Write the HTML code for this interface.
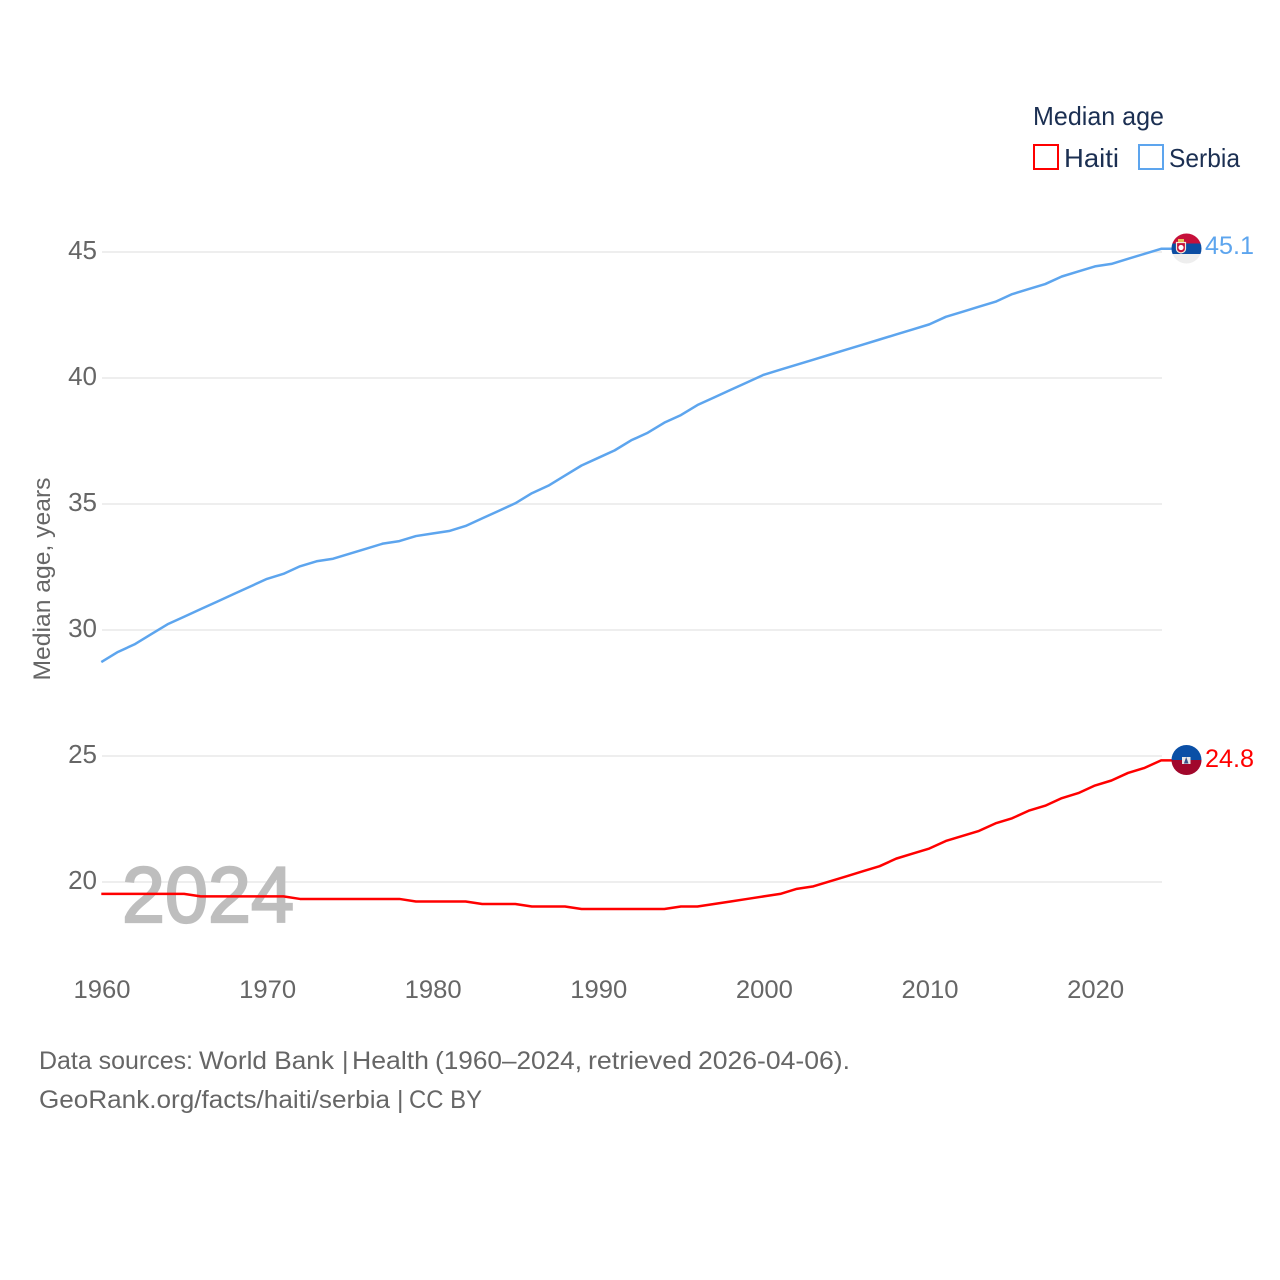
<!DOCTYPE html>
<html lang="en">
<head>
<meta charset="utf-8">
<title>Median age: Haiti and Serbia</title>
<style>
html,body{margin:0;padding:0;background:#fff;width:1280px;height:1280px;overflow:hidden}
svg{display:block}
text{font-family:"Liberation Sans",sans-serif}
</style>
</head>
<body>
<svg id="chart" xmlns="http://www.w3.org/2000/svg" width="1280" height="1280" viewBox="0 0 1280 1280">
  <rect width="1280" height="1280" fill="#fff"/>
  <g id="grid"></g>
  <text x="122" y="922" font-size="79" font-weight="400" fill="#bebebe" stroke="#bebebe" stroke-width="2.2" textLength="172" lengthAdjust="spacingAndGlyphs">2024</text>
  <g id="yticks"></g>
  <g id="xticks"></g>
  <text transform="translate(50,579) rotate(-90)" text-anchor="middle" font-size="24" fill="#666" textLength="203" lengthAdjust="spacingAndGlyphs">Median age, years</text>
  <g id="lines"></g>

  <g>
    <clipPath id="clip-serbia"><circle cx="1186.5" cy="248.5" r="15"/></clipPath>
    <g clip-path="url(#clip-serbia)">
      <rect x="1171" y="233" width="31" height="10.5" fill="#c6103a"/>
      <rect x="1171" y="243.5" width="31" height="10.5" fill="#0c4da2"/>
      <rect x="1171" y="254" width="31" height="10" fill="#eeeeee"/>
      <path d="M1176.5 242.5h9v6.5q0 3-4.5 4q-4.5-1-4.5-4z" fill="#c6103a" stroke="#f5ead8" stroke-width="1.2"/>
      <circle cx="1181" cy="247.5" r="2.6" fill="#ffffff"/>
      <rect x="1178" y="239" width="6" height="3" fill="#e8c15a"/>
    </g>
  </g>
  <g>
    <clipPath id="clip-haiti"><circle cx="1186.5" cy="760" r="15"/></clipPath>
    <g clip-path="url(#clip-haiti)">
      <rect x="1171" y="745" width="31" height="15" fill="#0a4fa6"/>
      <rect x="1171" y="760" width="31" height="15" fill="#a1082c"/>
      <rect x="1182" y="757" width="8.5" height="7" fill="#e8e8e8"/>
      <path d="M1186.2 757l2.3 6.5h-4.6z" fill="#37528a"/>
    </g>
  </g>

  <text x="1205" y="254" font-size="25" fill="#5da5ee" textLength="49" lengthAdjust="spacingAndGlyphs">45.1</text>
  <text x="1205" y="767" font-size="25" fill="#ff0000" textLength="49" lengthAdjust="spacingAndGlyphs">24.8</text>

  <g>
    <text x="1033" y="125" font-size="26" fill="#1b2f52" textLength="131" lengthAdjust="spacingAndGlyphs">Median age</text>
    <g>
      <rect x="1034" y="145" width="24" height="24" fill="none" stroke="#ff0000" stroke-width="2"/>
      <text x="1064" y="167" font-size="26" fill="#1b2f52" textLength="55" lengthAdjust="spacingAndGlyphs">Haiti</text>
    </g>
    <g>
      <rect x="1139" y="145" width="24" height="24" fill="none" stroke="#5da5ee" stroke-width="2"/>
      <text x="1169" y="167" font-size="26" fill="#1b2f52" textLength="71" lengthAdjust="spacingAndGlyphs">Serbia</text>
    </g>
  </g>

  <text y="1069" font-size="25" fill="#666"><tspan x="39" textLength="154" lengthAdjust="spacingAndGlyphs">Data sources:</tspan> <tspan x="199" textLength="135" lengthAdjust="spacingAndGlyphs">World Bank</tspan> <tspan x="342">|</tspan> <tspan x="352" textLength="77" lengthAdjust="spacingAndGlyphs">Health</tspan> <tspan x="435" textLength="147" lengthAdjust="spacingAndGlyphs">(1960–2024,</tspan> <tspan x="588" textLength="104" lengthAdjust="spacingAndGlyphs">retrieved</tspan> <tspan x="698" textLength="152" lengthAdjust="spacingAndGlyphs">2026-04-06).</tspan></text>
  <text y="1108" font-size="25" fill="#666"><tspan x="39" textLength="351" lengthAdjust="spacingAndGlyphs">GeoRank.org/facts/haiti/serbia</tspan> <tspan x="397">|</tspan> <tspan x="409" textLength="73" lengthAdjust="spacingAndGlyphs">CC BY</tspan></text>
</svg>
<script>
const years = [1960,1961,1962,1963,1964,1965,1966,1967,1968,1969,1970,1971,1972,1973,1974,1975,1976,1977,1978,1979,1980,1981,1982,1983,1984,1985,1986,1987,1988,1989,1990,1991,1992,1993,1994,1995,1996,1997,1998,1999,2000,2001,2002,2003,2004,2005,2006,2007,2008,2009,2010,2011,2012,2013,2014,2015,2016,2017,2018,2019,2020,2021,2022,2023,2024];
const serbiaValues = [28.7,29.1,29.4,29.8,30.2,30.5,30.8,31.1,31.4,31.7,32.0,32.2,32.5,32.7,32.8,33.0,33.2,33.4,33.5,33.7,33.8,33.9,34.1,34.4,34.7,35.0,35.4,35.7,36.1,36.5,36.8,37.1,37.5,37.8,38.2,38.5,38.9,39.2,39.5,39.8,40.1,40.3,40.5,40.7,40.9,41.1,41.3,41.5,41.7,41.9,42.1,42.4,42.6,42.8,43.0,43.3,43.5,43.7,44.0,44.2,44.4,44.5,44.7,44.9,45.1];
const haitiValues = [19.5,19.5,19.5,19.5,19.5,19.5,19.4,19.4,19.4,19.4,19.4,19.4,19.3,19.3,19.3,19.3,19.3,19.3,19.3,19.2,19.2,19.2,19.2,19.1,19.1,19.1,19.0,19.0,19.0,18.9,18.9,18.9,18.9,18.9,18.9,19.0,19.0,19.1,19.2,19.3,19.4,19.5,19.7,19.8,20.0,20.2,20.4,20.6,20.9,21.1,21.3,21.6,21.8,22.0,22.3,22.5,22.8,23.0,23.3,23.5,23.8,24.0,24.3,24.5,24.8];
const yTickValues = [20,25,30,35,40,45];
const xTickValues = [1960,1970,1980,1990,2000,2010,2020];

const NS = 'http://www.w3.org/2000/svg';
function xScale(year){ return 101.3 + (year - 1960) * 16.56; }
function yScale(v){ return 882 - (v - 20) * 25.2; }

const gridGroup = document.getElementById('grid');
const yTickGroup = document.getElementById('yticks');
const xTickGroup = document.getElementById('xticks');
const lineGroup = document.getElementById('lines');

yTickValues.forEach(function(v){
  const line = document.createElementNS(NS,'line');
  line.setAttribute('x1', 102);
  line.setAttribute('x2', 1162);
  line.setAttribute('y1', yScale(v));
  line.setAttribute('y2', yScale(v));
  line.setAttribute('stroke', '#e9e9e9');
  line.setAttribute('stroke-width', '1.5');
  
  
  gridGroup.appendChild(line);

  const label = document.createElementNS(NS,'text');
  label.setAttribute('x', 97);
  label.setAttribute('y', yScale(v) + 7);
  label.setAttribute('text-anchor', 'end');
  label.setAttribute('font-size', '26');
  label.setAttribute('fill', '#666');
  
  
  label.textContent = v;
  yTickGroup.appendChild(label);
});

xTickValues.forEach(function(y){
  const label = document.createElementNS(NS,'text');
  label.setAttribute('x', xScale(y) + 0.7);
  label.setAttribute('y', 998);
  label.setAttribute('text-anchor', 'middle');
  label.setAttribute('font-size', '25');
  label.setAttribute('fill', '#666');
  label.setAttribute('textLength', '57');
  label.setAttribute('lengthAdjust', 'spacingAndGlyphs');
  
  
  label.textContent = y;
  xTickGroup.appendChild(label);
});

function seriesPath(values){
  let d = '';
  values.forEach(function(v,i){
    d += (i ? 'L' : 'M') + xScale(years[i]).toFixed(2) + ' ' + (yScale(v) - 0.7).toFixed(2);
  });
  d += 'L1172 ' + (yScale(values[values.length - 1]) - 0.7).toFixed(2);
  return d;
}

const haitiLine = document.createElementNS(NS,'path');
haitiLine.setAttribute('d', seriesPath(haitiValues));
haitiLine.setAttribute('fill', 'none');
haitiLine.setAttribute('stroke', '#ff0000');
haitiLine.setAttribute('stroke-width', '2.5');
haitiLine.setAttribute('stroke-linejoin', 'round');


lineGroup.appendChild(haitiLine);

const serbiaLine = document.createElementNS(NS,'path');
serbiaLine.setAttribute('d', seriesPath(serbiaValues));
serbiaLine.setAttribute('fill', 'none');
serbiaLine.setAttribute('stroke', '#5da5ee');
serbiaLine.setAttribute('stroke-width', '2.5');
serbiaLine.setAttribute('stroke-linejoin', 'round');


lineGroup.appendChild(serbiaLine);
</script>
</body>
</html>
